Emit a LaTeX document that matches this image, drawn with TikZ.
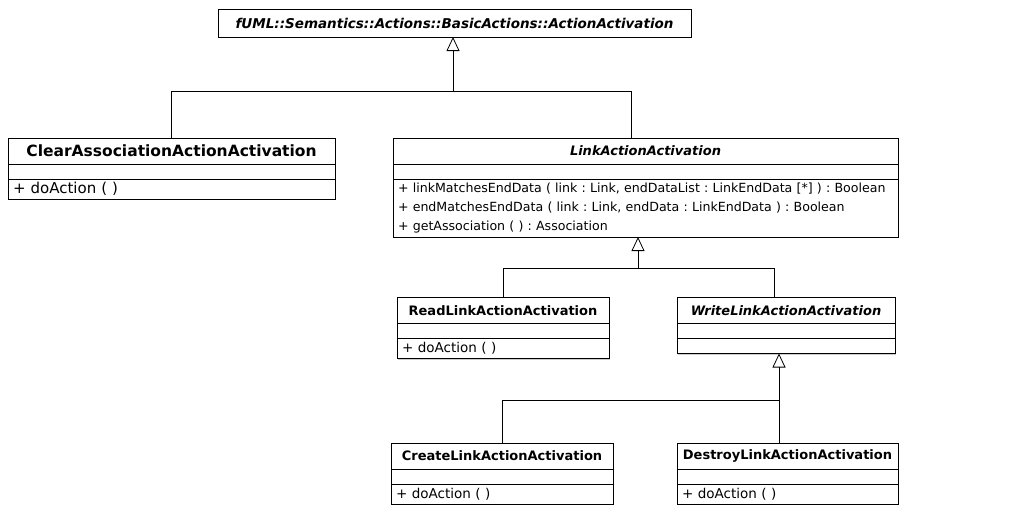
\documentclass[tikz,border=0pt]{standalone}
\usepackage{fontspec}
\setmainfont{DejaVu Sans}
\usetikzlibrary{positioning,arrows.meta,shadows}

\tikzset{
    cls/.style={draw, fill=white, line width=0.8pt, inner sep=0pt, outer sep=0pt,
        minimum width=#1, drop shadow={shadow xshift=1.2pt, shadow yshift=-1.2pt, fill=black!40}},
    head/.style={cls=#1, minimum height=26pt, font=\bfseries\fontsize{13}{15}\selectfont},
    abstract/.style={font=\bfseries\itshape\fontsize{13}{15}\selectfont},
    attr/.style={cls=#1, minimum height=15pt},
    ops/.style={cls=#1, minimum height=20pt, inner xsep=5pt, align=left,
        font=\frenchspacing\fontsize{13.5}{19}\selectfont},
    gen/.style={line width=0.8pt, -{Triangle[open, length=14pt, width=13pt]}},
    tree/.style={line width=0.8pt}
}

\begin{document}
\begin{tikzpicture}[x=1pt, y=-1pt]
    \useasboundingbox (0,0) rectangle (1030,504);

    % superclass
    \node[cls=473pt, minimum height=28pt, font=\bfseries\itshape\fontsize{13.5}{15}\selectfont]
        (action) at (454.5,23) {fUML::Semantics::Actions::BasicActions::ActionActivation};

    % first level
    \node[head=327pt, font=\bfseries\fontsize{15.5}{17}\selectfont] (clear) at (171.5,151) {ClearAssociationActionActivation};
    \node[attr=327pt, below=0pt of clear] (clearA) {};
    \node[ops=327pt, text width=317pt, font=\frenchspacing\fontsize{15}{19}\selectfont, below=0pt of clearA] (clearO) {+ doAction ( )};

    \node[head=505pt, abstract] (link) at (645.5,151) {LinkActionActivation};
    \node[attr=505pt, below=0pt of link] (linkA) {};
    \node[ops=505pt, text width=495pt, minimum height=58pt, font=\frenchspacing\fontsize{12.6}{19}\selectfont,
        below=0pt of linkA] (linkO)
        {+ linkMatchesEndData ( link : Link, endDataList : LinkEndData [*] ) : Boolean\\
         + endMatchesEndData ( link : Link, endData : LinkEndData ) : Boolean\\
         + getAssociation ( ) : Association};

    % second level
    \node[head=212pt] (read) at (503,310.5) {ReadLinkActionActivation};
    \node[attr=212pt, below=0pt of read] (readA) {};
    \node[ops=212pt, text width=202pt, below=0pt of readA] (readO) {+ doAction ( )};

    \node[head=218pt, abstract] (write) at (786,310.5) {WriteLinkActionActivation};
    \node[attr=218pt, below=0pt of write] (writeA) {};
    \node[attr=218pt, below=0pt of writeA] (writeO) {};

    % third level
    \node[head=222pt] (create) at (502,456) {CreateLinkActionActivation};
    \node[attr=222pt, below=0pt of create] (createA) {};
    \node[ops=222pt, text width=212pt, below=0pt of createA] (createO) {+ doAction ( )};

    \node[head=221pt] (destroy) at (787.5,456) {DestroyLinkActionActivation};
    \node[attr=221pt, below=0pt of destroy] (destroyA) {};
    \node[ops=221pt, text width=211pt, below=0pt of destroyA] (destroyO) {+ doAction ( )};

    % generalizations
    \coordinate (j1) at (453,91);
    \coordinate (j2) at (638,268);
    \coordinate (j3) at (779,400);

    \draw[tree] (clear.north) |- (j1);
    \draw[tree] ([xshift=-14.5pt]link.north) |- (j1);
    \draw[gen] (j1) -- (j1 |- action.south);

    \draw[tree] (read.north) |- (j2);
    \draw[tree] ([xshift=-12pt]write.north) |- (j2);
    \draw[gen] (j2) -- (j2 |- linkO.south);

    \draw[tree] (create.north) |- (j3);
    \draw[tree] ([xshift=-8.5pt]destroy.north) |- (j3);
    \draw[gen] (j3) -- (j3 |- writeO.south);
\end{tikzpicture}
\end{document}
